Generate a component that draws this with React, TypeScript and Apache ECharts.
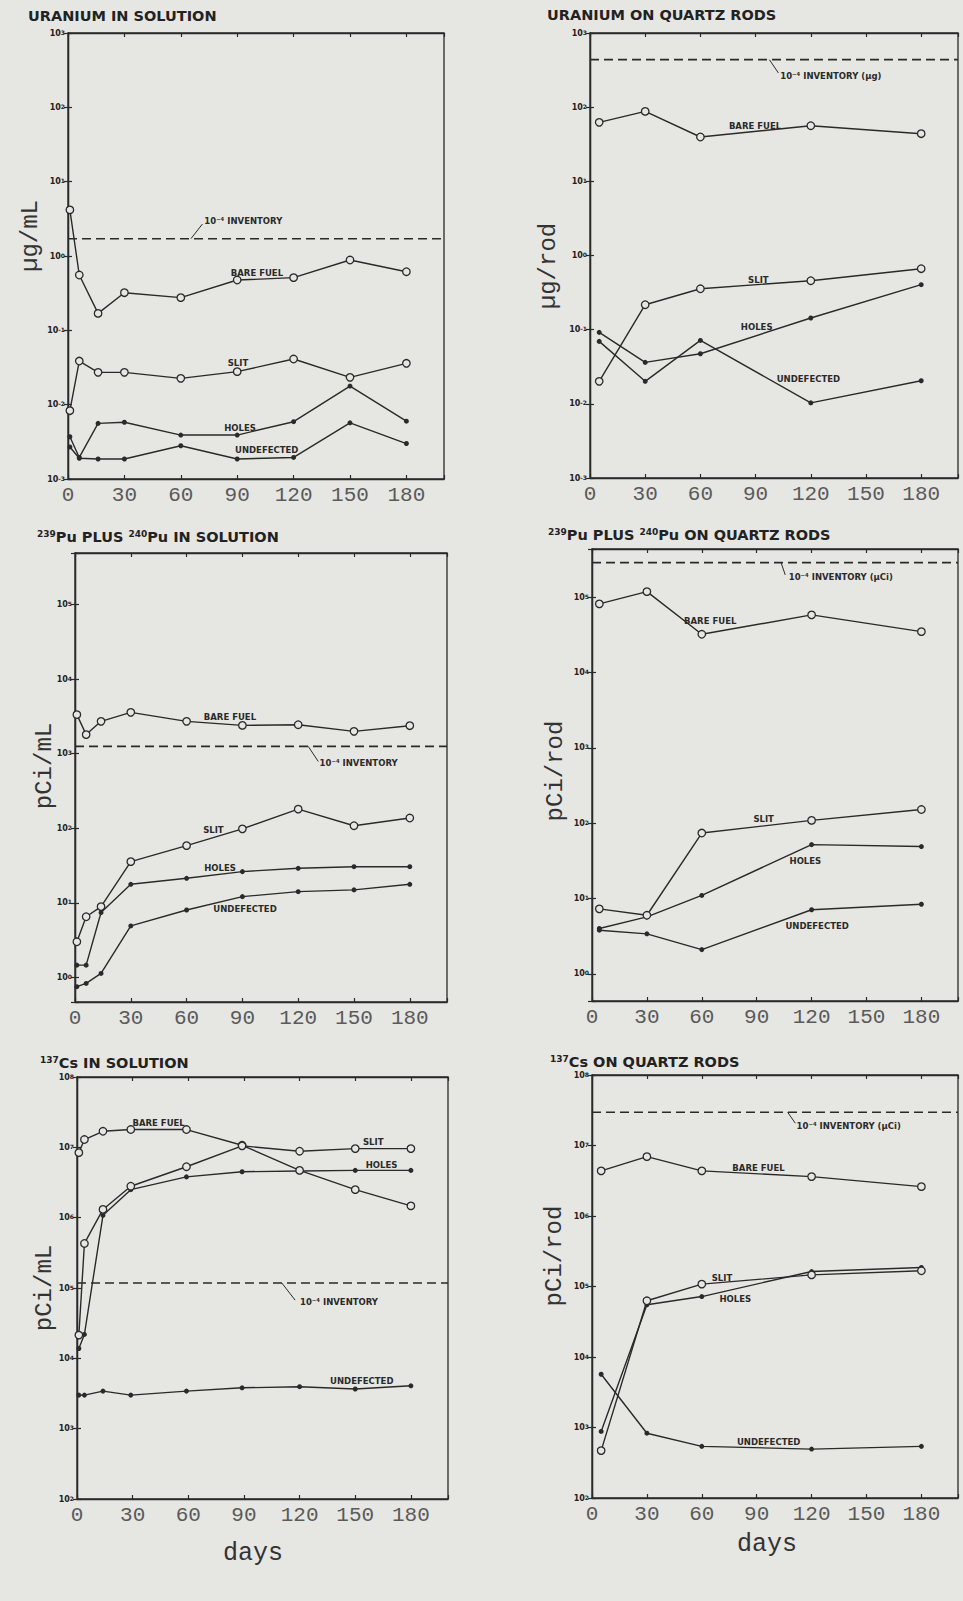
import { useEffect, useRef } from "react";
import * as echarts from "echarts";

// ---------------- shared axis values ----------------
const X_MIN = 0;
const X_MAX = 200;
const X_INTERVAL = 30;

// ---------------- Panel 1: Uranium in solution (µg/mL) ----------------
const uSolDays = [1, 6, 16, 30, 60, 90, 120, 150, 180];
const uSolBareFuel = [4.17, 0.555, 0.169, 0.321, 0.275, 0.475, 0.511, 0.883, 0.615];
const uSolSlit = [0.0083, 0.0386, 0.0272, 0.0272, 0.0226, 0.0278, 0.0411, 0.0233, 0.036];
const uSolHoles = [0.0037, 0.00195, 0.0056, 0.0058, 0.0039, 0.0039, 0.0059, 0.0178, 0.006];
const uSolUndefected = [0.0027, 0.0019, 0.00186, 0.00186, 0.0028, 0.00186, 0.00195, 0.0057, 0.003];
const uSolInventory = 1.71;

// ---------------- Panel 2: Uranium on quartz rods (µg/rod) ----------------
const uRodDays = [5, 30, 60, 120, 180];
const uRodBareFuel = [62.4, 87.7, 39.6, 56.2, 43.9];
const uRodSlit = [0.0201, 0.217, 0.356, 0.457, 0.664];
const uRodHoles = [0.092, 0.0362, 0.0474, 0.1435, 0.404];
const uRodUndefected = [0.0695, 0.0201, 0.0716, 0.0103, 0.0205];
const uRodInventory = 437;

// ---------------- Panel 3: 239Pu + 240Pu in solution (pCi/mL) ----------------
const puSolDays = [1, 6, 14, 30, 60, 90, 120, 150, 180];
const puSolBareFuel = [3330, 1800, 2710, 3580, 2710, 2390, 2440, 1990, 2370];
const puSolSlit = [3.0, 6.5, 8.9, 35.6, 58.5, 98, 180, 108, 137];
const puSolHoles = [1.46, 1.46, 7.4, 17.7, 21.3, 26.2, 29.0, 30.5, 30.5];
const puSolUndefected = [0.75, 0.83, 1.13, 4.9, 8.0, 12.1, 14.1, 14.9, 17.7];
const puSolInventory = 1250;

// ---------------- Panel 4: 239Pu + 240Pu on quartz rods (pCi/rod) ----------------
const puRodDays = [4, 30, 60, 120, 180];
const puRodBareFuel = [81500, 118600, 32200, 58200, 34900];
const puRodSlit = [7.3, 6.0, 74, 109, 152];
const puRodHoles = [4.0, 5.7, 11.0, 52, 49];
const puRodUndefected = [3.8, 3.4, 2.1, 7.1, 8.4];
const puRodInventory = 288000;

// ---------------- Panel 5: 137Cs in solution (pCi/mL) ----------------
const csSolDays = [1, 4, 14, 29, 59, 89, 120, 150, 180];
const csSolBareFuel = [8.4e6, 1.29e7, 1.69e7, 1.79e7, 1.79e7, 1.07e7, 4.7e6, 2.5e6, 1.47e6];
const csSolSlit = [21400, 430000, 1.31e6, 2.8e6, 5.3e6, 1.05e7, 8.8e6, 9.6e6, 9.6e6];
const csSolHoles = [13800, 21900, 1.08e6, 2.5e6, 3.8e6, 4.5e6, 4.6e6, 4.7e6, 4.7e6];
const csSolUndefected = [3000, 3000, 3420, 3000, 3420, 3810, 3950, 3660, 4070];
const csSolInventory = 118000;

// ---------------- Panel 6: 137Cs on quartz rods (pCi/rod) ----------------
const csRodDays = [5, 30, 60, 120, 180];
const csRodBareFuel = [4.36e6, 6.95e6, 4.36e6, 3.62e6, 2.61e6];
const csRodSlit = [470, 62700, 108000, 146000, 167000];
const csRodHoles = [880, 55000, 72000, 163000, 186000];
const csRodUndefected = [5700, 830, 540, 494, 540];
const csRodInventory = 2.96e7;

// ---------------- styles ----------------
const BG = "#e6e6e3";
const INK = "#2a2a2a";
const MONO = "'Liberation Mono', 'DejaVu Sans Mono', monospace";
const SANS = "'DejaVu Sans', 'Liberation Sans', sans-serif";

type Pt = [number, number];
type Note = { text: string; at: Pt; align?: "left" | "center" };
type Panel = {
  rect: { left: number; top: number; width: number; height: number };
  yMin: number;
  yMax: number;
  days: number[];
  bare: number[];
  slit: number[];
  holes: number[];
  undef: number[];
  inventory: number;
  leader: [Pt, Pt];
  notes: Note[];
};

const panels: Panel[] = [
  {
    rect: { left: 68, top: 33, width: 376, height: 446 },
    yMin: 1e-3, yMax: 1e3,
    days: uSolDays, bare: uSolBareFuel, slit: uSolSlit, holes: uSolHoles, undef: uSolUndefected,
    inventory: uSolInventory,
    leader: [[65.4, uSolInventory], [71.5, 2.69]],
    notes: [
      { text: "10⁻⁴ INVENTORY", at: [72.5, 2.96], align: "left" },
      { text: "BARE FUEL", at: [100.5, 0.59] },
      { text: "SLIT", at: [90.4, 0.036] },
      { text: "HOLES", at: [91.5, 0.0048] },
      { text: "UNDEFECTED", at: [105.7, 0.00245] },
    ],
  },
  {
    rect: { left: 590, top: 33, width: 368, height: 445 },
    yMin: 1e-3, yMax: 1e3,
    days: uRodDays, bare: uRodBareFuel, slit: uRodSlit, holes: uRodHoles, undef: uRodUndefected,
    inventory: uRodInventory,
    leader: [[97.5, uRodInventory], [102.4, 289]],
    notes: [
      { text: "10⁻⁴ INVENTORY (µg)", at: [103.4, 265], align: "left" },
      { text: "BARE FUEL", at: [89.7, 56.2] },
      { text: "SLIT", at: [91.5, 0.472] },
      { text: "HOLES", at: [90.6, 0.1086] },
      { text: "UNDEFECTED", at: [118.7, 0.0216] },
    ],
  },
  {
    rect: { left: 75, top: 553, width: 372, height: 449 },
    yMin: Math.pow(10, -0.33), yMax: Math.pow(10, 5.69),
    days: puSolDays, bare: puSolBareFuel, slit: puSolSlit, holes: puSolHoles, undef: puSolUndefected,
    inventory: puSolInventory,
    leader: [[125.4, puSolInventory], [130.8, 785]],
    notes: [
      { text: "10⁻⁴ INVENTORY", at: [131.5, 746], align: "left" },
      { text: "BARE FUEL", at: [83.3, 3105] },
      { text: "SLIT", at: [74.4, 95] },
      { text: "HOLES", at: [78, 29.6] },
      { text: "UNDEFECTED", at: [91.4, 8.17] },
    ],
  },
  {
    rect: { left: 592, top: 549, width: 366, height: 452 },
    yMin: Math.pow(10, -0.36), yMax: Math.pow(10, 5.64),
    days: puRodDays, bare: puRodBareFuel, slit: puRodSlit, holes: puRodHoles, undef: puRodUndefected,
    inventory: puRodInventory,
    leader: [[103.3, puRodInventory], [105.6, 198000]],
    notes: [
      { text: "10⁻⁴ INVENTORY (µCi)", at: [107.5, 187900], align: "left" },
      { text: "BARE FUEL", at: [64.6, 48870] },
      { text: "SLIT", at: [93.8, 112.7] },
      { text: "HOLES", at: [116.6, 31.4] },
      { text: "UNDEFECTED", at: [123, 4.26] },
    ],
  },
  {
    rect: { left: 77, top: 1077, width: 371, height: 422 },
    yMin: 1e2, yMax: 1e8,
    days: csSolDays, bare: csSolBareFuel, slit: csSolSlit, holes: csSolHoles, undef: csSolUndefected,
    inventory: csSolInventory,
    leader: [[110.4, csSolInventory], [117.6, 67140]],
    notes: [
      { text: "10⁻⁴ INVENTORY", at: [120.2, 62230], align: "left" },
      { text: "BARE FUEL", at: [44, 2.25e7] },
      { text: "SLIT", at: [159.7, 1.19e7] },
      { text: "HOLES", at: [164.2, 5.69e6] },
      { text: "UNDEFECTED", at: [153.5, 4742] },
    ],
  },
  {
    rect: { left: 592, top: 1075, width: 366, height: 423 },
    yMin: 1e2, yMax: 1e8,
    days: csRodDays, bare: csRodBareFuel, slit: csRodSlit, holes: csRodHoles, undef: csRodUndefected,
    inventory: csRodInventory,
    leader: [[106.9, csRodInventory], [111.1, 2.07e7]],
    notes: [
      { text: "10⁻⁴ INVENTORY (µCi)", at: [111.8, 1.91e7], align: "left" },
      { text: "BARE FUEL", at: [91, 4.85e6] },
      { text: "SLIT", at: [71, 131200] },
      { text: "HOLES", at: [78.3, 66830] },
      { text: "UNDEFECTED", at: [96.5, 614] },
    ],
  },
];

const titles = [
  { x: 28, y: 16, text: "{m|URANIUM IN SOLUTION}" },
  { x: 547, y: 15, text: "{m|URANIUM ON QUARTZ RODS}" },
  { x: 37, y: 537, text: "{s|239}{m|Pu PLUS }{s|240}{m|Pu IN SOLUTION}" },
  { x: 548, y: 535, text: "{s|239}{m|Pu PLUS }{s|240}{m|Pu ON QUARTZ RODS}" },
  { x: 40, y: 1063, text: "{s|137}{m|Cs IN SOLUTION}" },
  { x: 550, y: 1062, text: "{s|137}{m|Cs ON QUARTZ RODS}" },
];

const yNames = [
  { x: 30, y: 236, text: "µg/mL" },
  { x: 548, y: 266, text: "µg/rod" },
  { x: 44, y: 766, text: "pCi/mL" },
  { x: 555, y: 771, text: "pCi/rod" },
  { x: 44, y: 1288, text: "pCi/mL" },
  { x: 554, y: 1256, text: "pCi/rod" },
];

const xNames = [
  { x: 253, y: 1553, text: "days" },
  { x: 767, y: 1544, text: "days" },
];

function yLabel(v: number): string {
  const e = Math.log10(v);
  const r = Math.round(e);
  if (Math.abs(e - r) > 0.01) return "";
  return `{a|10}{b|${r}}`;
}

function buildOption() {
  const grid: any[] = [];
  const xAxis: any[] = [];
  const yAxis: any[] = [];
  const series: any[] = [];

  panels.forEach((p, i) => {
    grid.push({
      ...p.rect,
      show: true,
      borderColor: INK,
      borderWidth: 1.3,
      backgroundColor: "transparent",
      containLabel: false,
    });
    const xCommon = {
      type: "value",
      gridIndex: i,
      min: X_MIN,
      max: X_MAX,
      interval: X_INTERVAL,
      splitLine: { show: false },
      axisLine: { show: true, lineStyle: { color: INK, width: 1.3 } },
      axisTick: { show: true, inside: true, length: 4, lineStyle: { color: INK, width: 1.2 } },
    };
    xAxis.push({
      ...xCommon,
      position: "bottom",
      axisLabel: {
        show: true,
        margin: 6,
        fontFamily: MONO,
        fontSize: 21,
        color: "#5a5a5a",
        formatter: (v: number) => (v % X_INTERVAL === 0 ? String(v) : ""),
      },
    });
    xAxis.push({ ...xCommon, position: "top", axisLabel: { show: false } });

    const yCommon = {
      type: "log",
      logBase: 10,
      gridIndex: i,
      min: p.yMin,
      max: p.yMax,
      splitLine: { show: false },
      minorTick: { show: false },
      axisLine: { show: true, lineStyle: { color: INK, width: 1.3 } },
      axisTick: { show: true, inside: true, length: 4, lineStyle: { color: INK, width: 1.2 } },
    };
    yAxis.push({
      ...yCommon,
      position: "left",
      axisLabel: {
        show: true,
        margin: 3,
        formatter: yLabel,
        rich: {
          a: { fontSize: 8, fontWeight: "bold", color: "#222", fontFamily: SANS },
          b: { fontSize: 6, fontWeight: "bold", color: "#222", fontFamily: SANS, verticalAlign: "top" },
        },
      },
    });
    yAxis.push({ ...yCommon, position: "right", axisLabel: { show: false } });

    const mk = (name: string, vals: number[], open: boolean) => ({
      type: "line",
      name,
      xAxisIndex: 2 * i,
      yAxisIndex: 2 * i,
      data: p.days.map((d, k) => [d, vals[k]]),
      symbol: "circle",
      symbolSize: open ? 7.5 : 5,
      showSymbol: true,
      silent: true,
      z: open ? 4 : 3,
      lineStyle: { color: INK, width: 1.4 },
      itemStyle: { color: open ? BG : INK, borderColor: INK, borderWidth: open ? 1.3 : 0 },
    });
    series.push(mk("BARE FUEL", p.bare, true));
    series.push(mk("SLIT", p.slit, true));
    series.push(mk("HOLES", p.holes, false));
    series.push(mk("UNDEFECTED", p.undef, false));
    series.push({
      type: "line",
      name: "10⁻⁴ INVENTORY",
      xAxisIndex: 2 * i,
      yAxisIndex: 2 * i,
      data: [[X_MIN, p.inventory], [X_MAX, p.inventory]],
      symbol: "none",
      silent: true,
      z: 2,
      lineStyle: { color: INK, width: 1.6, type: [9, 5] },
    });
  });

  const graphic: any[] = [];
  titles.forEach((t) => {
    graphic.push({
      type: "text",
      x: t.x,
      y: t.y,
      silent: true,
      style: {
        text: t.text,
        align: "left",
        verticalAlign: "middle",
        rich: {
          m: { fontSize: 14.5, fontWeight: "bold", fontFamily: SANS, fill: "#222" },
          s: { fontSize: 9, fontWeight: "bold", fontFamily: SANS, fill: "#222", verticalAlign: "top" },
        },
      },
    });
  });
  yNames.forEach((t) => {
    graphic.push({
      type: "text",
      x: t.x,
      y: t.y,
      rotation: Math.PI / 2,
      silent: true,
      style: {
        text: t.text,
        align: "center",
        verticalAlign: "middle",
        fontSize: 24,
        fontFamily: MONO,
        fill: "#333",
      },
    });
  });
  xNames.forEach((t) => {
    graphic.push({
      type: "text",
      x: t.x,
      y: t.y,
      silent: true,
      style: {
        text: t.text,
        align: "center",
        verticalAlign: "middle",
        fontSize: 25,
        fontFamily: MONO,
        fill: "#333",
      },
    });
  });

  return {
    animation: false,
    backgroundColor: BG,
    tooltip: { show: false },
    grid,
    xAxis,
    yAxis,
    series,
    graphic,
  };
}

export default function App() {
  const ref = useRef<HTMLDivElement>(null);

  useEffect(() => {
    if (!ref.current) return;
    const chart = echarts.init(ref.current, null, { renderer: "svg" });
    const option: any = buildOption();
    chart.setOption(option);

    // annotations placed through the chart's own scales
    const extra: any[] = [];
    panels.forEach((p, i) => {
      const sIdx = 5 * i;
      p.notes.forEach((n) => {
        const pt = chart.convertToPixel({ seriesIndex: sIdx }, n.at) as number[];
        if (!pt) return;
        extra.push({
          type: "text",
          x: pt[0],
          y: pt[1],
          silent: true,
          z: 10,
          style: {
            text: n.text,
            align: n.align || "center",
            verticalAlign: "middle",
            fontSize: 8.5,
            fontWeight: "bold",
            fontFamily: SANS,
            fill: INK,
          },
        });
      });
      const a = chart.convertToPixel({ seriesIndex: sIdx }, p.leader[0]) as number[];
      const b = chart.convertToPixel({ seriesIndex: sIdx }, p.leader[1]) as number[];
      if (a && b) {
        extra.push({
          type: "line",
          silent: true,
          z: 10,
          shape: { x1: a[0], y1: a[1], x2: b[0], y2: b[1] },
          style: { stroke: INK, lineWidth: 1 },
        });
      }
    });
    chart.setOption({ graphic: [...option.graphic, ...extra] });

    return () => {
      chart.dispose();
    };
  }, []);

  return (
    <div
      ref={ref}
      style={{
        position: "absolute",
        left: 0,
        top: 0,
        width: 963,
        height: 1601,
        background: BG,
      }}
    />
  );
}
